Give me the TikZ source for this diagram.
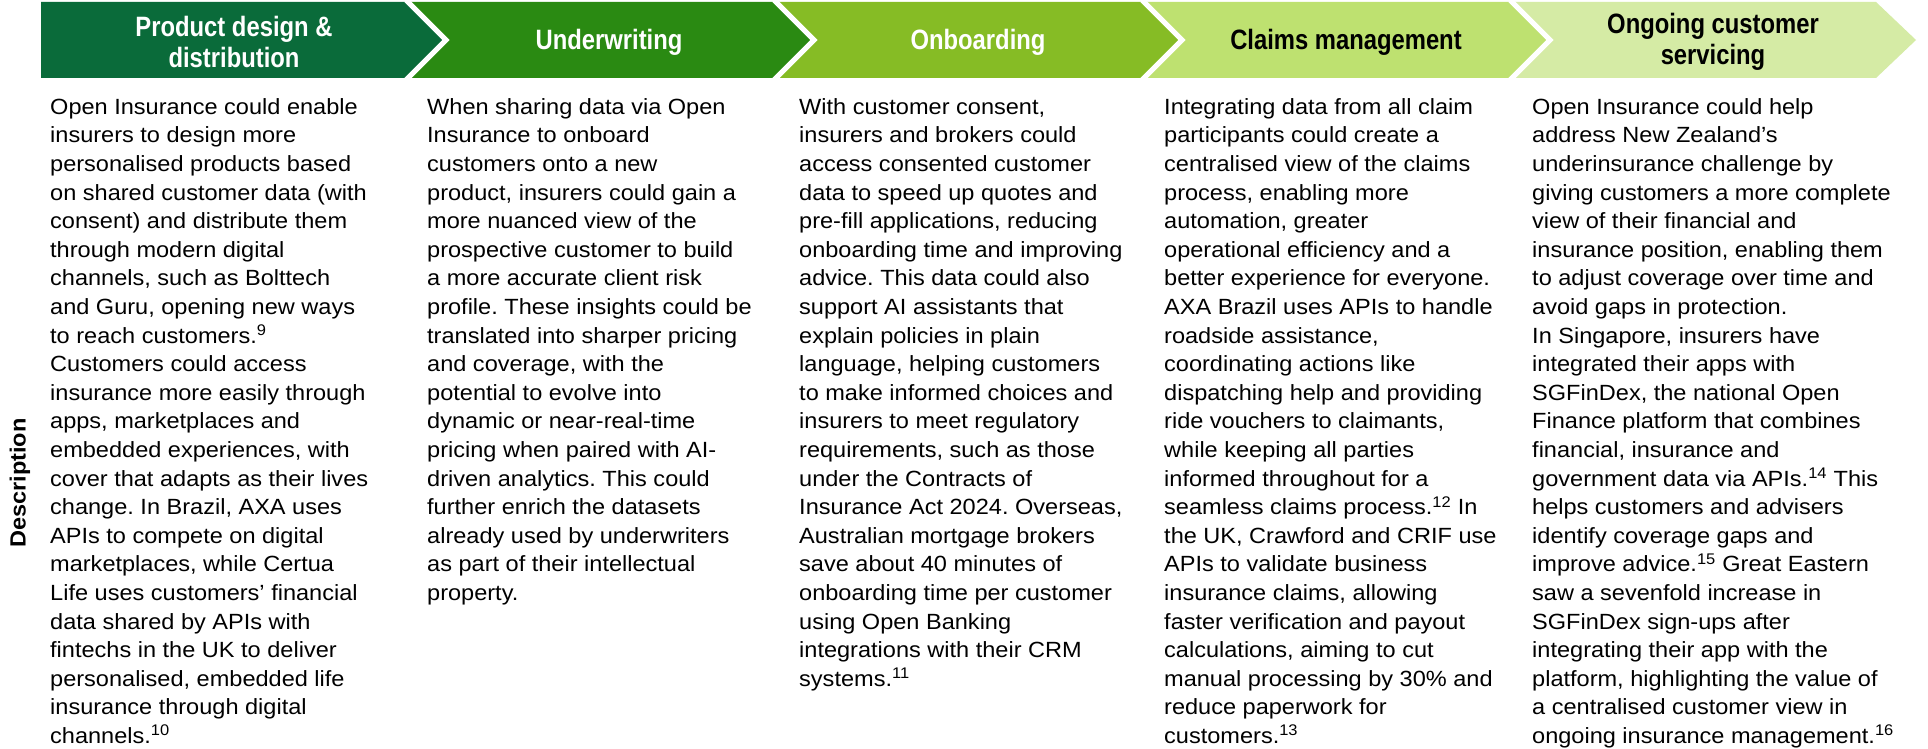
\documentclass[tikz,border=0pt]{standalone}
\usepackage{fontspec}
\setmainfont{Liberation Sans}[FakeStretch=1.07]
\newfontfamily\headfont{Liberation Sans}[FakeStretch=0.85]
\frenchspacing
\definecolor{stepA}{RGB}{10,107,58}
\definecolor{stepB}{RGB}{42,138,18}
\definecolor{stepC}{RGB}{134,188,37}
\definecolor{stepD}{RGB}{190,225,112}
\definecolor{stepE}{RGB}{213,235,165}
\begin{document}
\begin{tikzpicture}[x=1pt,y=-1pt,
  headtext/.style={align=center,inner sep=0pt,font=\headfont\bfseries\fontsize{28}{31}\selectfont},
  body/.style={align=left,inner sep=0pt,anchor=north west,font=\fontsize{22}{28.6}\selectfont},
  gapline/.style={white,line width=5pt,line join=miter}]
\useasboundingbox[fill=white] (0,0) rectangle (1928,749);

% process chevrons
\fill[stepA] (41,2) -- (406,2) -- (446,40) -- (406,78) -- (41,78) -- cycle;
\fill[stepB] (406,2) -- (774,2) -- (814,40) -- (774,78) -- (406,78) -- (446,40) -- cycle;
\fill[stepC] (774,2) -- (1142,2) -- (1182,40) -- (1142,78) -- (774,78) -- (814,40) -- cycle;
\fill[stepD] (1142,2) -- (1510,2) -- (1550,40) -- (1510,78) -- (1142,78) -- (1182,40) -- cycle;
\fill[stepE] (1510,2) -- (1876,2) -- (1916,40) -- (1876,78) -- (1510,78) -- (1550,40) -- cycle;
\draw[gapline] (406,0) -- (446,40) -- (406,80);
\draw[gapline] (774,0) -- (814,40) -- (774,80);
\draw[gapline] (1142,0) -- (1182,40) -- (1142,80);
\draw[gapline] (1510,0) -- (1550,40) -- (1510,80);

\node[headtext,text=white] (h1) at (234,42) {Product design \&\\distribution};
\node[headtext,text=white] (h2) at (609,42) {Underwriting};
\node[headtext,text=white] (h3) at (978,42) {Onboarding};
\node[headtext,text=black] (h4) at (1346,42) {Claims management};
\node[headtext,text=black] (h5) at (1713,42) {Ongoing customer\\servicing};

% row label
\node[rotate=90,inner sep=0pt,font=\bfseries\fontsize{22}{26}\selectfont] (lab) at (20,483) {Description};

% column texts
\node[body] (t1) at (50,94) {\rule{0pt}{20pt}Open Insurance could enable\\
insurers to design more\\
personalised products based\\
on shared customer data (with\\
consent) and distribute them\\
through modern digital\\
channels, such as Bolttech\\
and Guru, opening new ways\\
to reach customers.\textsuperscript{9}\\
Customers could access\\
insurance more easily through\\
apps, marketplaces and\\
embedded experiences, with\\
cover that adapts as their lives\\
change. In Brazil, AXA uses\\
APIs to compete on digital\\
marketplaces, while Certua\\
Life uses customers’ financial\\
data shared by APIs with\\
fintechs in the UK to deliver\\
personalised, embedded life\\
insurance through digital\\
channels.\textsuperscript{10}};

\node[body] (t2) at (427,94) {\rule{0pt}{20pt}When sharing data via Open\\
Insurance to onboard\\
customers onto a new\\
product, insurers could gain a\\
more nuanced view of the\\
prospective customer to build\\
a more accurate client risk\\
profile. These insights could be\\
translated into sharper pricing\\
and coverage, with the\\
potential to evolve into\\
dynamic or near-real-time\\
pricing when paired with AI-\\
driven analytics. This could\\
further enrich the datasets\\
already used by underwriters\\
as part of their intellectual\\
property.};

\node[body] (t3) at (799,94) {\rule{0pt}{20pt}With customer consent,\\
insurers and brokers could\\
access consented customer\\
data to speed up quotes and\\
pre-fill applications, reducing\\
onboarding time and improving\\
advice. This data could also\\
support AI assistants that\\
explain policies in plain\\
language, helping customers\\
to make informed choices and\\
insurers to meet regulatory\\
requirements, such as those\\
under the Contracts of\\
Insurance Act 2024. Overseas,\\
Australian mortgage brokers\\
save about 40 minutes of\\
onboarding time per customer\\
using Open Banking\\
integrations with their CRM\\
systems.\textsuperscript{11}};

\node[body] (t4) at (1164,94) {\rule{0pt}{20pt}Integrating data from all claim\\
participants could create a\\
centralised view of the claims\\
process, enabling more\\
automation, greater\\
operational efficiency and a\\
better experience for everyone.\\
AXA Brazil uses APIs to handle\\
roadside assistance,\\
coordinating actions like\\
dispatching help and providing\\
ride vouchers to claimants,\\
while keeping all parties\\
informed throughout for a\\
seamless claims process.\textsuperscript{12} In\\
the UK, Crawford and CRIF use\\
APIs to validate business\\
insurance claims, allowing\\
faster verification and payout\\
calculations, aiming to cut\\
manual processing by 30\% and\\
reduce paperwork for\\
customers.\textsuperscript{13}};

\node[body] (t5) at (1532,94) {\rule{0pt}{20pt}Open Insurance could help\\
address New Zealand’s\\
underinsurance challenge by\\
giving customers a more complete\\
view of their financial and\\
insurance position, enabling them\\
to adjust coverage over time and\\
avoid gaps in protection.\\
In Singapore, insurers have\\
integrated their apps with\\
SGFinDex, the national Open\\
Finance platform that combines\\
financial, insurance and\\
government data via APIs.\textsuperscript{14} This\\
helps customers and advisers\\
identify coverage gaps and\\
improve advice.\textsuperscript{15} Great Eastern\\
saw a sevenfold increase in\\
SGFinDex sign-ups after\\
integrating their app with the\\
platform, highlighting the value of\\
a centralised customer view in\\
ongoing insurance management.\textsuperscript{16}};
\end{tikzpicture}
\end{document}
